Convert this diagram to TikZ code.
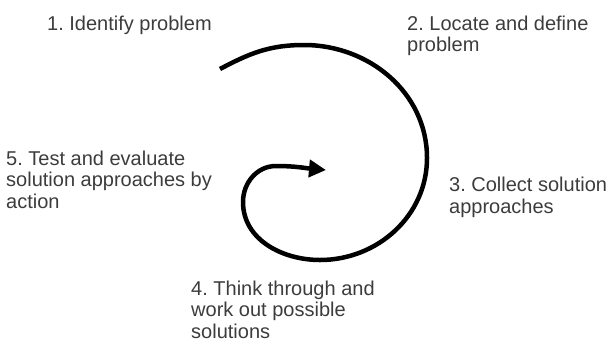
\documentclass[tikz,border=0pt]{standalone}
\usepackage{fontspec}
\setmainfont{Liberation Sans}
\usetikzlibrary{arrows.meta}
\definecolor{labelgray}{HTML}{3C3C3C}
\begin{document}
\begin{tikzpicture}[x=1pt,y=1pt,
  steplabel/.style={anchor=base west, align=left, inner sep=0pt,
    text=labelgray, font=\fontsize{20}{21.5}\selectfont\frenchspacing},
  spiral/.style={line width=4.5pt, -{Triangle[length=17pt,width=17pt]}}]
\useasboundingbox (0,0) rectangle (609,-341);

% step labels around the cycle (base anchor = baseline of the last line)
\node[steplabel] (s1) at (47,-30) {1. Identify problem};
\node[steplabel] (s2) at (407,-51.5) {2. Locate and define\\problem};
\node[steplabel] (s3) at (449,-213) {3. Collect solution\\approaches};
\node[steplabel] (s4) at (191,-338) {4. Think through and\\work out possible\\solutions};
\node[steplabel] (s5) at (6,-208) {5. Test and evaluate\\solution approaches by\\action};

% spiral arrow turning inward
\coordinate (start) at (220,-69);
\coordinate (top) at (304,-45);
\coordinate (right) at (427,-158);
\coordinate (bottom) at (320,-260);
\coordinate (left) at (243,-202);
\coordinate (inner) at (276,-166);
\coordinate (tip) at (326,-170);
\draw[spiral] (start) to[out=28,in=180] (top)
  to[out=0,in=90] (right)
  to[out=-90,in=0] (bottom)
  to[out=180,in=-90] (left)
  to[out=90,in=180] (inner)
  to[out=0,in=175] (tip);
\end{tikzpicture}
\end{document}
